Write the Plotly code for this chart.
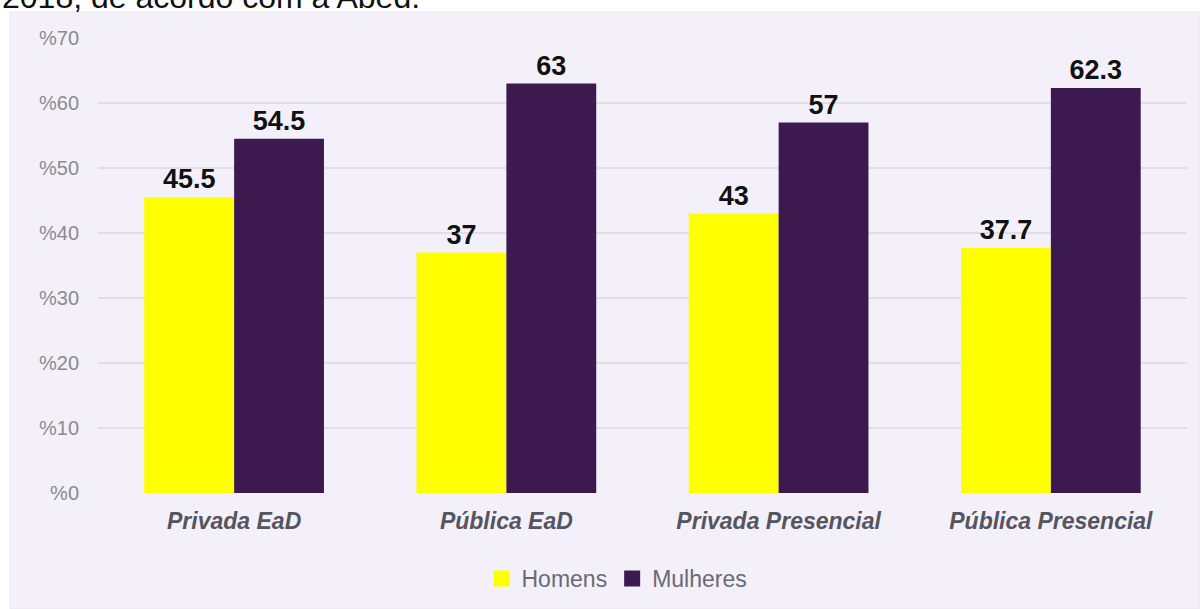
import plotly.graph_objects as go

categories = ["Privada EaD", "Pública EaD", "Privada Presencial", "Pública Presencial"]
homens = [45.5, 37, 43, 37.7]
mulheres = [54.5, 63, 57, 62.3]
tick_vals = [0, 10, 20, 30, 40, 50, 60, 70]
tick_text = ["%0", "%10", "%20", "%30", "%40", "%50", "%60", "%70"]
header_text = "2018, de acordo com a Abed."

W, H = 1200, 609
ML, MR, MT, MB = 98, 13, 38, 116
PW, PH = W - ML - MR, H - MT - MB
panel_bg = "#f4f0fa"
yellow = "#ffff00"
purple = "#3c1a50"


def px_x(p):
    return (p - ML) / PW


def px_y(p):
    return 1 - (p - MT) / PH


value_font = dict(family="Arial", size=27, color="#111111", weight="bold")

fig = go.Figure()
fig.add_trace(go.Bar(
    name="Homens", x=categories, y=homens, showlegend=False,
    marker=dict(color=yellow, line=dict(width=0)),
    texttemplate="%{y}", textposition="outside", textfont=value_font,
    cliponaxis=False,
))
fig.add_trace(go.Bar(
    name="Mulheres", x=categories, y=mulheres, showlegend=False,
    marker=dict(color=purple, line=dict(width=0)),
    texttemplate="%{y}", textposition="outside", textfont=value_font,
    cliponaxis=False,
))

# legend entries with larger square swatches
for name, color in [("Homens", yellow), ("Mulheres", purple)]:
    fig.add_trace(go.Scatter(
        name=name, x=[None], y=[None], mode="markers",
        marker=dict(symbol="square", size=17, color=color),
        showlegend=True,
    ))

# lavender chart panel behind the plot
fig.add_shape(type="rect", xref="paper", yref="paper",
              x0=px_x(10), x1=px_x(1200), y0=px_y(609), y1=px_y(12),
              fillcolor=panel_bg, line=dict(color="#ebe6f0", width=1), layer="below")

fig.add_annotation(text=header_text, xref="paper", yref="paper",
                   x=px_x(0), y=px_y(17), xanchor="left", yanchor="bottom",
                   showarrow=False, font=dict(family="Arial", size=32, color="#111111"))

fig.update_layout(
    width=W, height=H,
    margin=dict(l=ML, r=MR, t=MT, b=MB, autoexpand=False),
    paper_bgcolor="white", plot_bgcolor=panel_bg,
    barmode="group", bargap=0.34, bargroupgap=0,
    font=dict(family="Arial"),
    showlegend=True,
    legend=dict(orientation="h", x=px_x(617), xanchor="center", y=px_y(557), yanchor="top",
                font=dict(family="Arial", size=23, color="#6a6a74"),
                itemwidth=30, bgcolor="rgba(0,0,0,0)"),
    xaxis=dict(showgrid=False, showline=False, zeroline=False, automargin=False,
               ticks="outside", ticklen=7, tickcolor="rgba(0,0,0,0)",
               tickfont=dict(family="Arial", size=23, color="#55555f",
                             style="italic", weight="bold")),
    yaxis=dict(range=[0, 70], tickvals=tick_vals, ticktext=tick_text, automargin=False,
               showgrid=True, gridcolor="#e2dee8", gridwidth=2, zeroline=False,
               showline=False, ticks="outside", ticklen=14, tickcolor="rgba(0,0,0,0)",
               tickfont=dict(family="Arial", size=20, color="#8a8a90")),
)

fig.write_html("out.html")
